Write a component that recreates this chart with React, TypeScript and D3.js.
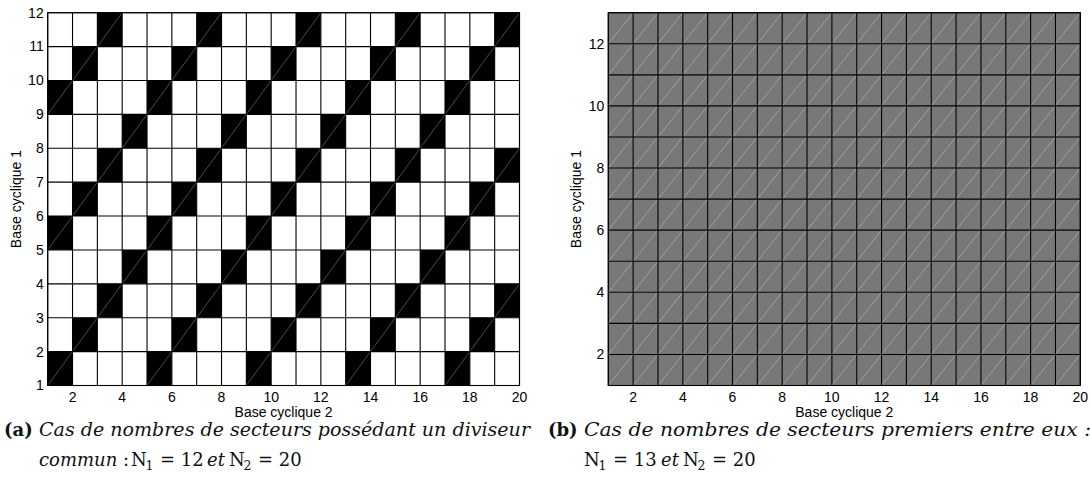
import React from "react";
import * as d3 from "d3";

// Left chart: N1 = 12, N2 = 20. Rows listed from top (y 11-12) to bottom (y 1-2), 19 columns (x 1..19)
const leftRows: string[] = [
  "0010001000100010001",
  "0100010001000100010",
  "1000100010001000100",
  "0001000100010001000",
  "0010001000100010001",
  "0100010001000100010",
  "1000100010001000100",
  "0001000100010001000",
  "0010001000100010001",
  "0100010001000100010",
  "1000100010001000100",
];

// Right chart: N1 = 13, N2 = 20 — every cell is covered. 12 rows (y 12-13 down to 1-2)
const rightRows: string[] = [
  "1111111111111111111",
  "1111111111111111111",
  "1111111111111111111",
  "1111111111111111111",
  "1111111111111111111",
  "1111111111111111111",
  "1111111111111111111",
  "1111111111111111111",
  "1111111111111111111",
  "1111111111111111111",
  "1111111111111111111",
  "1111111111111111111",
];

const xTicks: number[] = [2, 4, 6, 8, 10, 12, 14, 16, 18, 20];
const leftYTicks: number[] = [1, 2, 3, 4, 5, 6, 7, 8, 9, 10, 11, 12];
const rightYTicks: number[] = [2, 4, 6, 8, 10, 12];

const xLabel = "Base cyclique 2";
const yLabel = "Base cyclique 1";

const SANS = "'Liberation Sans', Arial, Helvetica, sans-serif";
const SERIF = "'DejaVu Serif', serif";
const TICK_FS = 14;

type PanelProps = {
  rows: string[];
  x0: number;
  x1: number;
  yMax: number;
  yTicks: number[];
  onColor: string;
  offColor: string;
  yLabelX: number;
};

function Panel({ rows, x0, x1, yMax, yTicks, onColor, offColor, yLabelX }: PanelProps) {
  const top = 12.7;
  const bottom = 385.5;
  const xS = d3.scaleLinear().domain([1, 20]).range([x0, x1]);
  const yS = d3.scaleLinear().domain([1, yMax]).range([bottom, top]);
  const nRows = rows.length;
  const cells: JSX.Element[] = [];
  rows.forEach((row, i) => {
    const r = nRows - i; // bottom value of this row
    row.split("").forEach((ch, j) => {
      const c = j + 1;
      const xa = xS(c);
      const xb = xS(c + 1);
      const ya = yS(r + 1);
      const yb = yS(r);
      const on = ch === "1";
      cells.push(
        <g key={`c${i}-${j}`}>
          <rect x={xa} y={ya} width={xb - xa} height={yb - ya} fill={on ? onColor : offColor} />
          {on && (
            <line x1={xa} y1={yb} x2={xb} y2={ya} stroke="#fff" strokeOpacity={0.42} strokeWidth={0.7} />
          )}
        </g>
      );
    });
  });
  const vLines = d3.range(1, 21);
  const hLines = d3.range(1, yMax + 1);
  return (
    <g>
      {cells}
      {vLines.map((v) => (
        <line key={`v${v}`} x1={xS(v)} x2={xS(v)} y1={top} y2={bottom} stroke="#000" strokeWidth={1.1} />
      ))}
      {hLines.map((h) => (
        <line key={`h${h}`} x1={x0} x2={x1} y1={yS(h)} y2={yS(h)} stroke="#000" strokeWidth={1.1} />
      ))}
      <rect x={x0} y={top} width={x1 - x0} height={bottom - top} fill="none" stroke="#000" strokeWidth={1.1} />
      {xTicks.map((t) => (
        <text key={`xt${t}`} x={xS(t)} y={402} textAnchor="middle" fontFamily={SANS} fontSize={TICK_FS} fill="#000">
          {t}
        </text>
      ))}
      {yTicks.map((t) => (
        <text key={`yt${t}`} x={x0 - 4} y={yS(t)} dy="0.35em" textAnchor="end" fontFamily={SANS} fontSize={TICK_FS} fill="#000">
          {t}
        </text>
      ))}
      <text x={(x0 + x1) / 2} y={417} textAnchor="middle" fontFamily={SANS} fontSize={TICK_FS} fill="#000">
        {xLabel}
      </text>
      <text
        transform={`translate(${yLabelX},${(top + bottom) / 2}) rotate(-90)`}
        textAnchor="middle"
        dy="0.35em"
        fontFamily={SANS}
        fontSize={TICK_FS}
        fill="#000"
      >
        {yLabel}
      </text>
    </g>
  );
}

type Piece = { t: string; x: number; italic?: boolean; sub?: boolean };

function Line({ pieces, y }: { pieces: Piece[]; y: number }) {
  return (
    <g>
      {pieces.map((p, i) => (
        <text
          key={i}
          x={p.x}
          y={p.sub ? y + 4 : y}
          fontFamily={SERIF}
          fontStyle={p.italic ? "italic" : "normal"}
          fontSize={p.sub ? 12.5 : 18}
          fill="#111"
        >
          {p.t}
        </text>
      ))}
    </g>
  );
}

const captionA2: Piece[] = [
  { t: "commun", x: 39, italic: true },
  { t: ":", x: 123 },
  { t: "N", x: 131 },
  { t: "1", x: 145.5, sub: true },
  { t: "= 12", x: 160 },
  { t: "et", x: 207, italic: true },
  { t: "N", x: 229 },
  { t: "2", x: 243.5, sub: true },
  { t: "= 20", x: 258 },
];

const captionB2: Piece[] = [
  { t: "N", x: 584 },
  { t: "1", x: 598.5, sub: true },
  { t: "= 13", x: 613 },
  { t: "et", x: 661, italic: true },
  { t: "N", x: 683 },
  { t: "2", x: 697.5, sub: true },
  { t: "= 20", x: 712 },
];

export default function App() {
  const fs = 18;
  return (
    <svg
      width={1090}
      height={490}
      style={{ position: "absolute", left: 0, top: 0, background: "#fff" }}
    >
      <rect x={0} y={0} width={1090} height={490} fill="#fff" />
      <Panel rows={leftRows} x0={47.7} x1={519.5} yMax={12} yTicks={leftYTicks} onColor="#000" offColor="#fff" yLabelX={16} />
      <Panel rows={rightRows} x0={608.3} x1={1080.3} yMax={13} yTicks={rightYTicks} onColor="#787878" offColor="#fff" yLabelX={576} />

      {/* Caption (a) */}
      <text x={4} y={436} fontFamily={SERIF} fontWeight="bold" fontSize={fs} fill="#111">(a)</text>
      <text x={39} y={436} fontFamily={SERIF} fontStyle="italic" fontSize={fs} fill="#111" textLength={491} lengthAdjust="spacingAndGlyphs">
        Cas de nombres de secteurs possédant un diviseur
      </text>
      <Line pieces={captionA2} y={466} />

      {/* Caption (b) */}
      <text x={548} y={436} fontFamily={SERIF} fontWeight="bold" fontSize={fs} fill="#111">(b)</text>
      <text x={584} y={436} fontFamily={SERIF} fontStyle="italic" fontSize={fs} fill="#111" textLength={507} lengthAdjust="spacingAndGlyphs">
        Cas de nombres de secteurs premiers entre eux :
      </text>
      <Line pieces={captionB2} y={466} />
    </svg>
  );
}
